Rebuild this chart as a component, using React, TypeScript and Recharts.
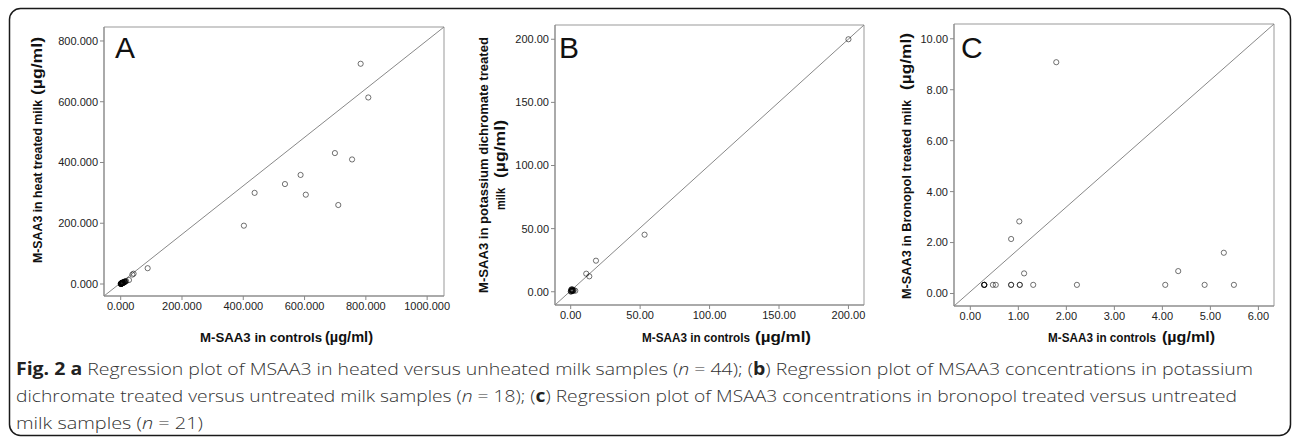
import React from "react";
import { ScatterChart, Scatter, XAxis, YAxis, ReferenceLine, ReferenceArea } from "recharts";

// panel A: heat treated vs controls (n = 44)
const heatControls = [783, 808, 699, 755, 587, 536, 604, 437, 710, 402, 88, 38, 42, 27, 18,
  0.5, 1, 2, 3, 4, 5, 6, 7, 8, 10, 12, 14, 1.5, 2.5, 3.5, 4.5, 0.2, 0.8, 5.5, 6.5, 9, 11, 13, 3, 7.5, 2, 1, 4, 15];
const heatTreated = [725, 614, 431, 410, 359, 329, 294, 300, 260, 192, 52, 31, 34, 13, 9,
  0.3, 0.8, 1.5, 2, 2.5, 3, 3.5, 4, 5, 6, 7, 8, 1, 1.2, 1.8, 2.2, 0.1, 0.5, 4.5, 2.8, 4, 5.5, 6.5, 3, 5, 0.5, 2, 4, 9];
const heatTicksX = [0, 200, 400, 600, 800, 1000];
const heatTicksY = [0, 200, 400, 600, 800];

// panel B: potassium dichromate (n = 18)
const dichControls = [200, 53.2, 18.2, 11.2, 13.4, 3.3, 0.2, 0.5, 0.8, 1, 1.2, 1.5, 0.3, 0.7, 1.8, 2.2, 0.1, 1];
const dichTreated = [200, 45.2, 24.6, 14.3, 12.2, 0.8, 0.3, 0.8, 1.2, 0.5, 1.8, 1, 1.5, 2, 0.7, 1.3, 0.1, 1];
const dichTicks = [0, 50, 100, 150, 200];

// panel C: bronopol (n = 21)
const bronControls = [1.79, 1.02, 0.85, 1.12, 5.28, 4.33, 0.29, 0.29, 0.29, 0.29, 0.47, 0.53, 0.85, 0.85,
  1.03, 1.31, 2.22, 4.06, 4.88, 5.49, 1.03];
const bronTreated = [9.08, 2.83, 2.14, 0.79, 1.6, 0.88, 0.34, 0.34, 0.34, 0.34, 0.34, 0.34, 0.34, 0.34,
  0.34, 0.34, 0.34, 0.34, 0.34, 0.34, 0.34];
const bronTicksX = [0, 1, 2, 3, 4, 5, 6];
const bronTicksY = [0, 2, 4, 6, 8, 10];

const zip = (xs: number[], ys: number[]) => xs.map((x, i) => ({ x, y: ys[i] }));

const AXIS_FONT = "'Liberation Sans', Arial, sans-serif";
const CAP_FONT = "'Open Sans', 'Noto Sans', sans-serif";

const Ring = (props: any) => (
  <circle cx={props.cx} cy={props.cy} r={2.6} fill="none" stroke="#000" strokeOpacity={0.55} strokeWidth={1} />
);

interface PanelProps {
  left: number;
  top: number;
  plotW: number;
  plotH: number;
  right: number;
  data: { x: number; y: number }[];
  xDomain: [number, number];
  yDomain: [number, number];
  xTicks: number[];
  yTicks: number[];
  digits: number;
}

function Panel(p: PanelProps) {
  const fmt = (v: number) => v.toFixed(p.digits);
  const tick = { fill: "#222", fontSize: 11, fontFamily: AXIS_FONT };
  return (
    <div style={{ position: "absolute", left: p.left - 60, top: p.top - 5 }}>
      <ScatterChart width={p.plotW + 60 + p.right} height={p.plotH + 30} margin={{ top: 5, right: p.right, bottom: 0, left: 0 }}>
        <XAxis type="number" dataKey="x" domain={p.xDomain} allowDataOverflow ticks={p.xTicks} interval={0}
          tickFormatter={fmt} tickSize={4} height={25} stroke="#888" tick={tick} />
        <YAxis type="number" dataKey="y" domain={p.yDomain} allowDataOverflow ticks={p.yTicks} interval={0}
          tickFormatter={fmt} tickSize={4} width={60} stroke="#888" tick={tick} />
        <ReferenceArea x1={p.xDomain[0]} x2={p.xDomain[1]} y1={p.yDomain[0]} y2={p.yDomain[1]}
          fill="none" stroke="#999" strokeWidth={1} fillOpacity={0} />
        <ReferenceLine segment={[{ x: p.xDomain[0], y: p.yDomain[0] }, { x: p.xDomain[1], y: p.yDomain[1] }]}
          stroke="#888" strokeWidth={1} />
        <Scatter data={p.data} shape={Ring} isAnimationActive={false} />
      </ScatterChart>
    </div>
  );
}

// rotated axis label: main text then larger units, reading bottom to top
function YLabel({ x, y0, len, text, uy0, ulen }: { x: number; y0: number; len: number; text: string; uy0: number; ulen: number }) {
  return (
    <g transform="rotate(-90)" fontFamily={AXIS_FONT} fill="#111">
      {text && (
        <text x={-y0} y={x} fontSize={12} fontWeight="bold" textLength={len} lengthAdjust="spacingAndGlyphs">{text}</text>
      )}
      {ulen > 0 && (
        <text x={-uy0} y={x} fontSize={15} fontWeight="bold" textLength={ulen} lengthAdjust="spacingAndGlyphs">(µg/ml)</text>
      )}
    </g>
  );
}

function XLabel({ x0, len, ux0, ulen }: { x0: number; len: number; ux0: number; ulen: number }) {
  return (
    <g fontFamily={AXIS_FONT} fill="#111">
      <text x={x0} y={341.5} fontSize={12} fontWeight="bold" textLength={len} lengthAdjust="spacingAndGlyphs">M-SAA3 in controls</text>
      <text x={ux0} y={341.5} fontSize={15} fontWeight="bold" textLength={ulen} lengthAdjust="spacingAndGlyphs">(µg/ml)</text>
    </g>
  );
}

export default function App() {
  return (
    <div style={{ position: "absolute", left: 0, top: 0, width: 1292, height: 440, overflow: "hidden", background: "#fff" }}>
      <Panel left={104} top={27} plotW={340} plotH={269} right={30} data={zip(heatControls, heatTreated)}
        xDomain={[-54.5, 1055]} yDomain={[-39.5, 846]} xTicks={heatTicksX} yTicks={heatTicksY} digits={3} />
      <Panel left={555} top={25} plotW={309} plotH={280} right={30} data={zip(dichControls, dichTreated)}
        xDomain={[-11.3, 211.2]} yDomain={[-10.5, 211.3]} xTicks={dichTicks} yTicks={dichTicks} digits={2} />
      <Panel left={954} top={24} plotW={320} plotH={282} right={12} data={zip(bronControls, bronTreated)}
        xDomain={[-0.34, 6.325]} yDomain={[-0.49, 10.58]} xTicks={bronTicksX} yTicks={bronTicksY} digits={2} />

      <svg width={1292} height={440} style={{ position: "absolute", left: 0, top: 0, pointerEvents: "none" }}>
        <rect x={9.5} y={8.5} width={1281} height={427} rx={11} fill="none" stroke="#1a1a1a" strokeWidth={1.5} />

        <g fontFamily={AXIS_FONT} fontSize={30} fill="#111">
          <text x={115} y={58}>A</text>
          <text x={559} y={58}>B</text>
          <text x={961} y={58}>C</text>
        </g>

        <YLabel x={42} y0={263} len={163} text="M-SAA3 in heat treated milk" uy0={95} ulen={58} />
        <YLabel x={488} y0={293} len={256} text="M-SAA3 in potassium dichromate treated" uy0={0} ulen={0} />
        <YLabel x={505} y0={210} len={22} text="milk" uy0={178} ulen={58} />
        <YLabel x={911} y0={299} len={199} text="M-SAA3 in Bronopol treated milk" uy0={90} ulen={57} />

        <XLabel x0={200} len={122} ux0={325} ulen={48} />
        <XLabel x0={642} len={108} ux0={755} ulen={56} />
        <XLabel x0={1048} len={108} ux0={1162} ulen={53} />

        <g fontFamily={CAP_FONT} fontSize={17} fill="#333" fontWeight={300}>
          <text x={16} y={375} textLength={1237} lengthAdjust="spacingAndGlyphs">
            <tspan fontWeight="bold" fill="#222">Fig. 2 a</tspan>
            {" Regression plot of MSAA3 in heated versus unheated milk samples ("}
            <tspan fontStyle="italic">n</tspan>
            {" = 44); ("}
            <tspan fontWeight="bold" fill="#222">b</tspan>
            {") Regression plot of MSAA3 concentrations in potassium"}
          </text>
          <text x={16} y={402} textLength={1221} lengthAdjust="spacingAndGlyphs">
            {"dichromate treated versus untreated milk samples ("}
            <tspan fontStyle="italic">n</tspan>
            {" = 18); ("}
            <tspan fontWeight="bold" fill="#222">c</tspan>
            {") Regression plot of MSAA3 concentrations in bronopol treated versus untreated"}
          </text>
          <text x={16} y={429} textLength={187} lengthAdjust="spacingAndGlyphs">
            {"milk samples ("}
            <tspan fontStyle="italic">n</tspan>
            {" = 21)"}
          </text>
        </g>
      </svg>
    </div>
  );
}
